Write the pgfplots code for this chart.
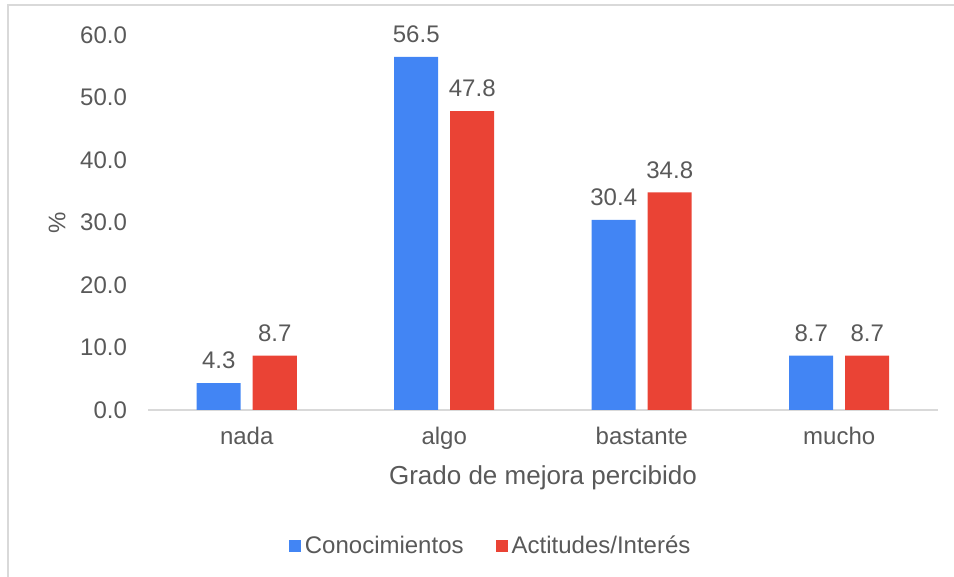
\documentclass[border=0pt]{standalone}
\usepackage{fontspec}
\setmainfont{Liberation Sans}
\usepackage{pgfplots}
\pgfplotsset{compat=1.18}
\definecolor{cblue}{HTML}{4285F4}
\definecolor{cred}{HTML}{EA4335}
\definecolor{txt}{HTML}{595959}
\definecolor{frame}{HTML}{D9D9D9}
\begin{document}
\begin{tikzpicture}
\path[use as bounding box] (0,0) rectangle (477pt,288.5pt);
\draw[frame, line width=1pt] (3.75pt,0pt) -- (3.75pt,285.75pt) -- (477pt,285.75pt);
\begin{axis}[
  at={(74pt,83.5pt)}, anchor=south west,
  scale only axis, width=395pt, height=187.5pt,
  ymin=0, ymax=60, xmin=-0.5, xmax=3.5,
  ybar=6pt, bar width=22pt,
  xtick=data, xticklabels={nada,algo,bastante,mucho},
  ytick={0,10,20,30,40,50,60},
  axis x line*=bottom, axis y line*=left,
  x axis line style={frame, line width=0.9pt, -},
  y axis line style={draw=none},
  major tick length=0pt,
  /pgf/number format/assume math mode=true,
  /pgf/number format/fixed,
  /pgf/number format/fixed zerofill,
  /pgf/number format/precision=1,
  font=\fontsize{12}{14}\selectfont,
  every tick label/.append style={text=txt},
  yticklabel style={xshift=-7pt},
  ylabel={\%}, ylabel style={at={(axis description cs:-0.115,0.5)}, anchor=center, text=txt},
  xlabel={Grado de mejora percibido},
  xlabel style={font=\fontsize{13}{15}\selectfont, text=txt, at={(axis description cs:0.5,-0.181)}, anchor=center},
  xticklabel style={yshift=-5pt},
  nodes near coords,
  nodes near coords style={text=txt, font=\fontsize{12}{14}\selectfont, yshift=3.5pt,
    /pgf/number format/fixed, /pgf/number format/fixed zerofill,
    /pgf/number format/precision=1, /pgf/number format/assume math mode=true},
  clip=false,
  legend columns=2,
  legend style={draw=none, at={(0.435,-0.363)}, anchor=center, text=txt,
    font=\fontsize{12}{14}\selectfont,
    /tikz/every even column/.append style={column sep=14pt}},
  legend image code/.code={\path[#1, draw=none] (0pt,-3pt) rectangle (6pt,3pt);},
]
\addplot[fill=cblue, draw=none] coordinates {(0,4.3) (1,56.5) (2,30.4) (3,8.7)};
\addplot[fill=cred, draw=none] coordinates {(0,8.7) (1,47.8) (2,34.8) (3,8.7)};
\legend{Conocimientos, Actitudes/Interés}
\end{axis}
\end{tikzpicture}
\end{document}
